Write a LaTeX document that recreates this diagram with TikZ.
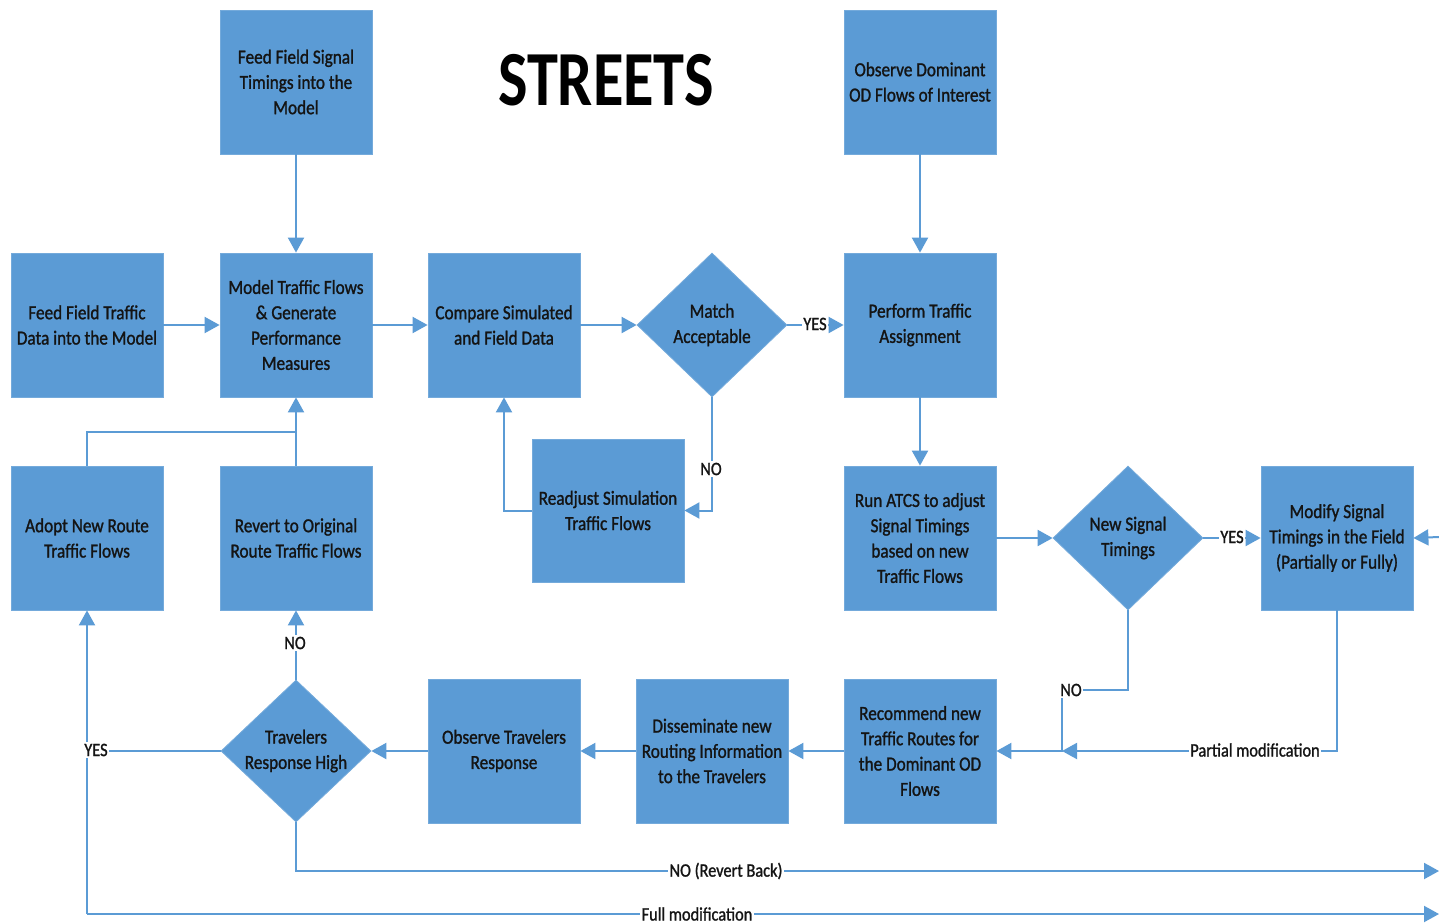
\documentclass[tikz,border=0pt]{standalone}
\usepackage{fontspec}
\setmainfont{Carlito}[FakeStretch=0.86, FakeBold=1.2]
\newfontfamily\titlefont{Carlito}[FakeStretch=0.8]
\usetikzlibrary{arrows.meta,shapes.geometric}
\definecolor{boxblue}{HTML}{5B9BD5}
\definecolor{lineblue}{HTML}{5B9BD5}
\definecolor{txt}{HTML}{141414}
\begin{document}
\begin{tikzpicture}[x=1pt,y=-1pt,
  box/.style={rectangle, fill=boxblue, draw=boxblue!85!white, line width=0.8pt,
    minimum width=152pt, minimum height=144pt, inner sep=2pt, align=center,
    font=\fontsize{20}{25.3}\selectfont, text=txt},
  dia/.style={diamond, fill=boxblue, draw=boxblue!85!white, line width=0.8pt,
    minimum width=150pt, minimum height=144pt, inner sep=0pt},
  dtext/.style={align=center, font=\fontsize{20}{25.3}\selectfont, text=txt},
  flow/.style={draw=lineblue, line width=2pt, -{Triangle[length=15pt,width=16pt]}},
  link/.style={draw=lineblue, line width=2pt},
  lab/.style={fill=white, inner sep=1.5pt, font=\fontsize{19}{22}\selectfont, text=txt}
]
\useasboundingbox[fill=white] (0,0) rectangle (1439,923);

% title
\node[text=black] (title) at (606,80) {\titlefont\bfseries\fontsize{78}{80}\selectfont STREETS};

% boxes
\node[box] (fsig) at (296,82) {Feed Field Signal\\Timings into the\\Model};
\node[box] (obsod) at (920,82) {Observe Dominant\\OD Flows of Interest};
\node[box] (ftraf) at (87,325) {Feed Field Traffic\\Data into the Model};
\node[box] (model) at (296,325) {Model Traffic Flows\\\& Generate\\Performance\\Measures};
\node[box] (comp) at (504,325) {Compare Simulated\\and Field Data};
\node[dia, label={[dtext]center:Match\\Acceptable}] (match) at (712,325) {};
\node[box] (perf) at (920,325) {Perform Traffic\\Assignment};
\node[box] (adopt) at (87,538) {Adopt New Route\\Traffic Flows};
\node[box] (revert) at (296,538) {Revert to Original\\Route Traffic Flows};
\node[box, minimum height=143pt] (readj) at (608,510.5) {Readjust Simulation\\Traffic Flows};
\node[box] (run) at (920,538) {Run ATCS to adjust\\Signal Timings\\based on new\\Traffic Flows};
\node[dia, label={[dtext]center:New Signal\\Timings}] (newsig) at (1128,538) {};
\node[box] (modify) at (1337,538) {Modify Signal\\Timings in the Field\\(Partially or Fully)};
\node[dia, minimum height=142pt, label={[dtext]center:Travelers\\Response High}] (trav) at (296,751) {};
\node[box] (obstr) at (504,751) {Observe Travelers\\Response};
\node[box] (diss) at (712,751) {Disseminate new\\Routing Information\\to the Travelers};
\node[box] (recom) at (920,751) {Recommend new\\Traffic Routes for\\the Dominant OD\\Flows};

% free ends and corners
\coordinate (eMod) at (1439,537);
\coordinate (eRev) at (1439,871);
\coordinate (eFull) at (1439,914);
\coordinate (cFull) at (87,914);
\coordinate (cYes) at (87,751);
\coordinate (cJoin) at (296,432);
\coordinate (cNo) at (1062,690);
\coordinate (cMerge) at (1062,751);

% connectors
\draw[flow] (fsig) -- (model);
\draw[flow] (ftraf) -- (model);
\draw[flow] (model) -- (comp);
\draw[flow] (comp) -- (match);
\draw[flow] (match) -- (perf);
\draw[flow] (obsod) -- (perf);
\draw[flow] (perf) -- (run);
\draw[flow] (match.south) |- (readj.east);
\draw[flow] (readj.west) -| (comp.south);
\draw[flow] (run) -- (newsig);
\draw[flow] (newsig) -- (modify);
\draw[flow] (eMod) -- (modify.east);
\draw[flow] (newsig.south) |- (cNo) -- (cMerge) -- (recom.east);
\draw[flow] (modify.south) |- (cMerge);
\draw[flow] (recom) -- (diss);
\draw[flow] (diss) -- (obstr);
\draw[flow] (obstr) -- (trav);
\draw[flow] (trav) -- (revert);
\draw[flow] (revert) -- (model);
\draw[link] (adopt.north) |- (cJoin);
\draw[flow] (cFull) -- (adopt.south);
\draw[link] (trav.west) -- (cYes);
\draw[flow] (trav.south) |- (eRev);
\draw[flow] (cFull) -- (eFull);

% labels
\node[lab] (lYes1) at (815,324) {YES};
\node[lab] (lNo1) at (711,469) {NO};
\node[lab] (lYes2) at (1232,537) {YES};
\node[lab] (lNo2) at (1071,690) {NO};
\node[lab] (lPart) at (1255,750) {Partial modification};
\node[lab] (lNo3) at (295,643) {NO};
\node[lab] (lYes3) at (96,750) {YES};
\node[lab] (lRev) at (726,871) {NO (Revert Back)};
\node[lab] (lFull) at (697,914) {Full modification};
\end{tikzpicture}
\end{document}
